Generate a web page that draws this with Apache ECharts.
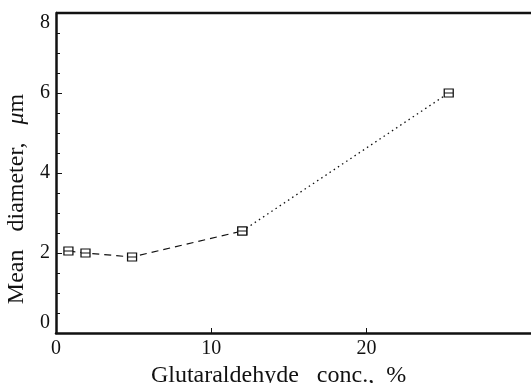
<!DOCTYPE html>
<html><head><meta charset="utf-8">
<script src="https://cdn.jsdelivr.net/npm/echarts@6/dist/echarts.min.js"></script>
<style>html,body{margin:0;padding:0;background:#fff}#c{width:531px;height:383px}</style>
</head><body><div id="c"></div>
<script>
const concA = [0.8, 1.9, 4.9, 12.0];
const diamA = [2.05, 2.0, 1.9, 2.55];
const concB = [12.0, 25.3];
const diamB = [2.55, 6.0];
const xTicks = [0, 10, 20];
const yTicks = [0, 2, 4, 6, 8];
const xTitle = 'Glutaraldehyde   conc.,  %{s|}';
const yTitle = 'Mean   diameter,   {i|\u03bc}m{s|}';

const F = '"Liberation Serif", "DejaVu Serif", serif';
const sym = 'path://M0,0H10V10H0Z M0,5H10';
const chart = echarts.init(document.getElementById('c'), null, {renderer:'canvas'});
chart.setOption({
  animation:false,
  backgroundColor:'#fff',
  grid:{left:56, right:0, top:13, bottom:50, containLabel:false, outerBoundsMode:'none'},
  xAxis:{type:'value', min:0, max:30.6, interval:10,
    name:xTitle, nameLocation:'middle', nameGap:28,
    nameTextStyle:{fontFamily:F, fontSize:24, color:'#111',
      rich:{s:{width:30, fontSize:24}}},
    axisLine:{show:true, onZero:false, lineStyle:{color:'#111', width:2.5}},
    axisTick:{show:true, inside:true, length:5, customValues:xTicks, lineStyle:{color:'#111'}},
    axisLabel:{customValues:xTicks, fontFamily:F, fontSize:20, color:'#111', margin:6},
    splitLine:{show:false}},
  yAxis:{type:'value', min:0, max:8, interval:2,
    name:yTitle, nameLocation:'middle', nameGap:24,
    nameTextStyle:{fontFamily:F, fontSize:24, color:'#111',
      rich:{i:{fontFamily:F, fontSize:24, fontStyle:'italic', color:'#111'}, s:{width:52, fontSize:24}}},
    axisLine:{show:true, lineStyle:{color:'#111', width:2.5}},
    axisTick:{show:true, inside:true, length:6, lineStyle:{color:'#111'}},
    minorTick:{show:true, splitNumber:4, length:4, lineStyle:{color:'#111'}},
    axisLabel:{fontFamily:F, fontSize:20, color:'#111', margin:6,
      verticalAlignMinLabel:'bottom', verticalAlignMaxLabel:'top'},
    splitLine:{show:false}},
  series:[
    {type:'line', data:concA.map((x,i)=>[x,diamA[i]]), symbol:sym, symbolSize:[9,8], showAllSymbol:true,
      lineStyle:{color:'#111', width:1.2, type:[7,5]}, itemStyle:{color:'#fff', borderColor:'#111', borderWidth:1.2}, z:3},
    {type:'line', data:concB.map((x,i)=>[x,diamB[i]]), symbol:sym, symbolSize:[9,8], showAllSymbol:true,
      lineStyle:{color:'#111', width:1.3, type:[1.5,3.5]}, itemStyle:{color:'#fff', borderColor:'#111', borderWidth:1.2}, z:3}
  ],
  graphic:[
    {type:'line', shape:{x1:56, y1:13, x2:531, y2:13}, style:{stroke:'#111', lineWidth:2.5}}
  ]
});
</script></body></html>
